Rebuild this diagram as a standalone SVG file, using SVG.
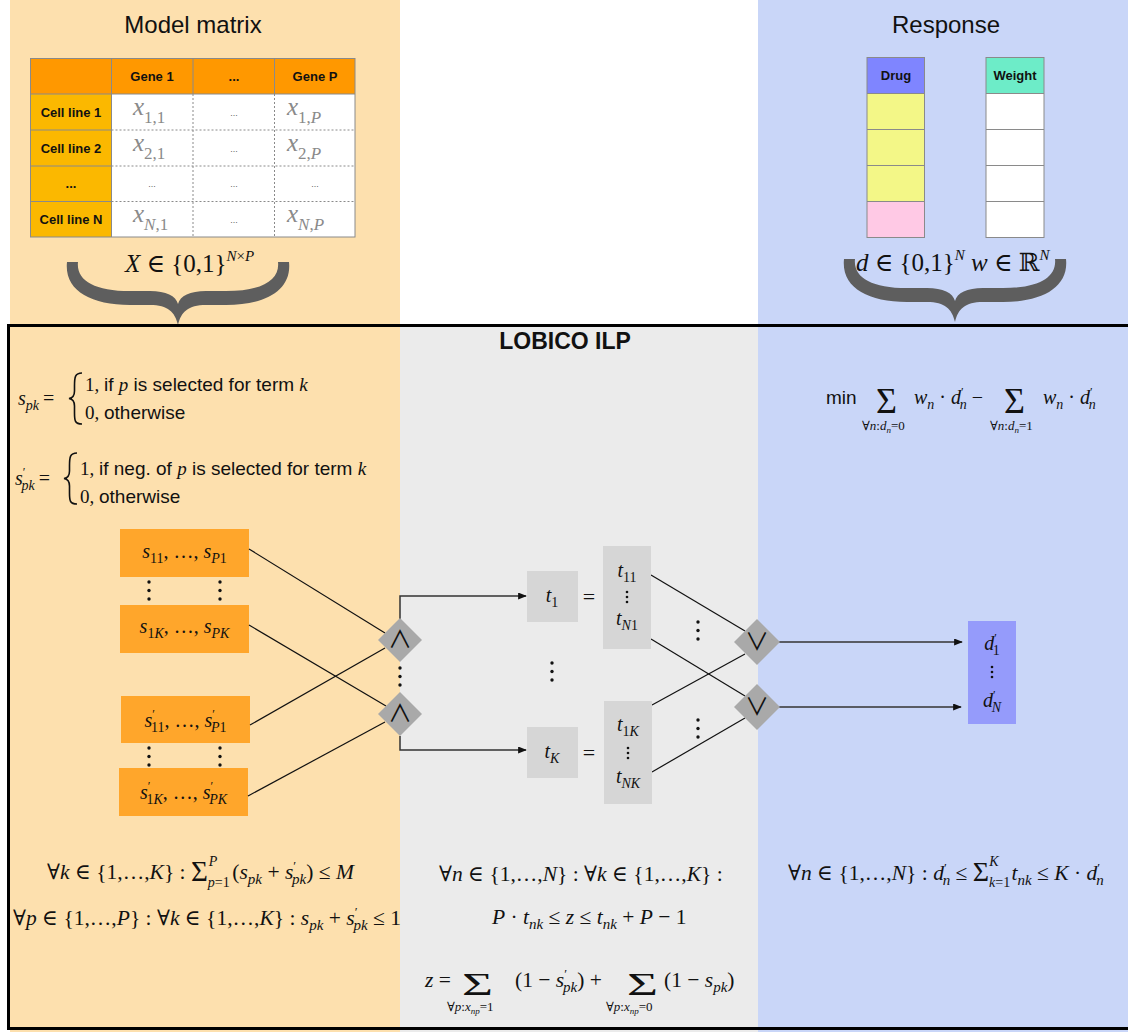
<svg xmlns="http://www.w3.org/2000/svg" width="1128" height="1032" viewBox="0 0 1128 1032" font-size="20">
<defs>
<style>
.sans{font-family:"Liberation Sans",Arial,"DejaVu Sans",sans-serif}
.m{font-family:"Liberation Serif","DejaVu Serif",serif;fill:#111}
.it{font-style:italic}
.title{font-family:"Liberation Sans",Arial,sans-serif;font-size:24px;text-anchor:middle;fill:#111}
.hdr{font-family:"Liberation Sans",Arial,sans-serif;font-weight:bold;font-size:13px;text-anchor:middle;fill:#111}
.cx{font-family:"Liberation Serif","DejaVu Serif",serif;font-size:25px;fill:#8a8a8a}
.ell{font-family:"Liberation Sans",Arial,sans-serif;font-size:9px;text-anchor:middle;fill:#666}
.grid{stroke:#8a8a8a;stroke-width:1;fill:none}
.dash{stroke:#8a8a8a;stroke-width:1;stroke-dasharray:2 2;fill:none}
.conn{stroke:#111;stroke-width:1.2;fill:none}
.arr{stroke:#333;stroke-width:1.5;fill:none;marker-end:url(#ah)}
.gate{fill:#a9a9a9}
.gsym{font-family:"Noto Sans CJK JP","DejaVu Sans",sans-serif;font-size:24px;text-anchor:middle;fill:#111}
.sbox{fill:#ffa62b}
.tbox{fill:#d6d6d6}
.dots circle{fill:#111}
</style>
<marker id="ah" viewBox="0 0 10 8" refX="9" refY="4" markerWidth="9" markerHeight="7" markerUnits="userSpaceOnUse" orient="auto"><path d="M0,0 L10,4 L0,8 z" fill="#111"/></marker>
<path id="brace" fill="#5e5e5e" d="M-111,0 C-114,28 -88,43 -48,43 L-28,43 C-10,43 -3,50 0,63 C3,50 10,43 28,43 L48,43 C88,43 114,28 111,0 L100,0 C102,18 84,29 48,29 L28,29 C12,29 2,34 0,42 C-2,34 -12,29 -28,29 L-48,29 C-84,29 -102,18 -100,0 Z"/>
<g id="vd3" class="dots"><circle cx="0" cy="0" r="1.7"/><circle cx="0" cy="8.5" r="1.7"/><circle cx="0" cy="17" r="1.7"/></g>
<g id="vds" class="dots"><circle cx="0" cy="0" r="1.3"/><circle cx="0" cy="5" r="1.3"/><circle cx="0" cy="10" r="1.3"/></g>
</defs>

<!-- column backgrounds -->
<rect x="0" y="0" width="1128" height="1032" fill="#ffffff"/>
<rect x="10" y="0" width="390" height="1032" fill="#fde0ae"/>
<rect x="400" y="325" width="358" height="707" fill="#ebebeb"/>
<rect x="758" y="0" width="370" height="1032" fill="#c9d6f8"/>

<!-- model matrix -->
<g id="model-matrix">
  <text class="title" x="193" y="33">Model matrix</text>
  <rect x="30" y="58" width="325" height="36" fill="#ff9800"/>
  <rect x="30" y="94" width="81.5" height="143" fill="#fbb800"/>
  <rect x="111.5" y="94" width="243.5" height="143" fill="#ffffff"/>
  <path class="grid" d="M111.5,58 V237 M193,58 V94 M274.5,58 V94 M30,94 H355 M30,130 H111.5 M30,166 H111.5 M30,201.5 H111.5"/>
  <path class="dash" d="M193,94 V237 M274.5,94 V237 M111.5,130 H355 M111.5,166 H355 M111.5,201.5 H355"/>
  <rect class="grid" x="30.5" y="58.5" width="324.5" height="178.5"/>
  <text class="hdr" x="152" y="81">Gene 1</text>
  <text class="hdr" x="234" y="81">...</text>
  <text class="hdr" x="315" y="81">Gene P</text>
  <text class="hdr" x="71" y="117">Cell line 1</text>
  <text class="hdr" x="71" y="153">Cell line 2</text>
  <text class="hdr" x="71" y="188">...</text>
  <text class="hdr" x="71" y="224">Cell line N</text>
  <text class="cx" x="133" y="115"><tspan font-style="italic">x</tspan><tspan font-size="17" dy="8">1,1</tspan></text>
  <text class="cx" x="287" y="115"><tspan font-style="italic">x</tspan><tspan font-size="17" dy="8">1,<tspan font-style="italic">P</tspan></tspan></text>
  <text class="cx" x="133" y="151"><tspan font-style="italic">x</tspan><tspan font-size="17" dy="8">2,1</tspan></text>
  <text class="cx" x="287" y="151"><tspan font-style="italic">x</tspan><tspan font-size="17" dy="8">2,<tspan font-style="italic">P</tspan></tspan></text>
  <text class="cx" x="133" y="222"><tspan font-style="italic">x</tspan><tspan font-size="17" dy="8"><tspan font-style="italic">N</tspan>,1</tspan></text>
  <text class="cx" x="287" y="222"><tspan font-style="italic">x</tspan><tspan font-size="17" dy="8"><tspan font-style="italic">N</tspan>,<tspan font-style="italic">P</tspan></tspan></text>
  <text class="ell" x="234" y="116">...</text>
  <text class="ell" x="234" y="152">...</text>
  <text class="ell" x="152" y="187">...</text>
  <text class="ell" x="234" y="187">...</text>
  <text class="ell" x="315" y="187">...</text>
  <text class="ell" x="234" y="223">...</text>
  <text class="m" x="125" y="272" font-size="25"><tspan class="it">X</tspan> ∈ {0,1}<tspan class="it" font-size="15" dy="-11">N</tspan><tspan font-size="15">×</tspan><tspan class="it" font-size="15">P</tspan></text>
  <use href="#brace" transform="translate(178,262)"/>
</g>

<!-- response -->
<g id="response">
  <text class="title" x="946" y="33">Response</text>
  <rect x="867" y="57.5" width="57.5" height="36" fill="#7f85ff"/>
  <rect x="867" y="93.5" width="57.5" height="108" fill="#f3f787"/>
  <rect x="867" y="201.5" width="57.5" height="36" fill="#ffc9e5"/>
  <path class="grid" d="M867,93.5 H924.5 M867,129.5 H924.5 M867,165.5 H924.5 M867,201.5 H924.5"/>
  <rect class="grid" x="867" y="57.5" width="57.5" height="180"/>
  <text class="hdr" x="896" y="80">Drug</text>
  <rect x="986" y="57.5" width="58" height="36" fill="#6decc8"/>
  <rect x="986" y="93.5" width="58" height="144" fill="#ffffff"/>
  <path class="grid" d="M986,93.5 H1044 M986,129.5 H1044 M986,165.5 H1044 M986,201.5 H1044"/>
  <rect class="grid" x="986" y="57.5" width="58" height="180"/>
  <text class="hdr" x="1015" y="80">Weight</text>
  <text class="m" x="856" y="271" font-size="25"><tspan class="it">d</tspan> ∈ {0,1}<tspan class="it" font-size="15" dy="-11">N</tspan><tspan dy="11"> </tspan><tspan class="it">w</tspan> ∈ ℝ<tspan class="it" font-size="15" dy="-11">N</tspan></text>
  <use href="#brace" transform="translate(955,259)"/>
</g>

<!-- ILP frame -->
<rect x="8.5" y="325.5" width="1125" height="703" fill="none" stroke="#000" stroke-width="3"/>
<text x="565" y="349" class="sans" font-size="23" font-weight="bold" text-anchor="middle" fill="#111">LOBICO ILP</text>

<!-- variable definitions -->
<g id="def-s">
  <text class="m" x="18" y="405"><tspan class="it">s</tspan><tspan class="it" font-size="14" dy="5">pk</tspan><tspan dy="-5" dx="4">=</tspan></text>
  <path d="M82,373 C75,373 74.5,377 74.5,386 L74.5,391 C74.5,396 72.5,398 69,398.5 C72.5,399 74.5,401 74.5,406 L74.5,413 C74.5,421 75,424 82,424" fill="none" stroke="#111" stroke-width="1.6"/>
  <text class="m" x="85" y="391" font-size="19">1, <tspan class="sans">if </tspan><tspan class="it">p</tspan><tspan class="sans"> is selected for term </tspan><tspan class="it">k</tspan></text>
  <text class="m" x="85" y="419" font-size="19">0, <tspan class="sans">otherwise</tspan></text>
</g>
<g id="def-s-neg">
  <text class="m" x="15" y="485"><tspan class="it">s</tspan><tspan font-size="12" dy="-9">′</tspan><tspan class="it" font-size="14" dx="-4" dy="14">pk</tspan><tspan dy="-5" dx="4">=</tspan></text>
  <path d="M77,453 C70,453 69.5,457 69.5,466 L69.5,471 C69.5,476 67.5,478 64,478.5 C67.5,479 69.5,481 69.5,486 L69.5,493 C69.5,501 70,504 77,504" fill="none" stroke="#111" stroke-width="1.6"/>
  <text class="m" x="80" y="475" font-size="19">1, <tspan class="sans">if neg. of </tspan><tspan class="it">p</tspan><tspan class="sans"> is selected for term </tspan><tspan class="it">k</tspan></text>
  <text class="m" x="80" y="503" font-size="19">0, <tspan class="sans">otherwise</tspan></text>
</g>

<!-- objective -->
<g id="objective">
  <text class="sans" x="826" y="404" font-size="19" fill="#111">min</text>
  <text class="m" x="876" y="413" font-size="36">Σ</text>
  <text class="m" x="862" y="430" font-size="13">∀<tspan class="it">n</tspan>:<tspan class="it">d</tspan><tspan class="it" font-size="9" dy="3">n</tspan><tspan dy="-3">=0</tspan></text>
  <text class="m" x="914" y="404"><tspan class="it">w</tspan><tspan class="it" font-size="14" dy="5">n</tspan><tspan dy="-5"> · </tspan><tspan class="it">d</tspan><tspan font-size="12" dy="-8">′</tspan><tspan class="it" font-size="14" dx="-4" dy="13">n</tspan><tspan dy="-5"> −</tspan></text>
  <text class="m" x="1004" y="413" font-size="36">Σ</text>
  <text class="m" x="990" y="430" font-size="13">∀<tspan class="it">n</tspan>:<tspan class="it">d</tspan><tspan class="it" font-size="9" dy="3">n</tspan><tspan dy="-3">=1</tspan></text>
  <text class="m" x="1043" y="404"><tspan class="it">w</tspan><tspan class="it" font-size="14" dy="5">n</tspan><tspan dy="-5"> · </tspan><tspan class="it">d</tspan><tspan font-size="12" dy="-8">′</tspan><tspan class="it" font-size="14" dx="-4" dy="13">n</tspan></text>
</g>

<!-- selection variable boxes -->
<g id="s-first">
  <rect class="sbox" x="120" y="529" width="129" height="48"/>
  <text class="m" x="184.5" y="558" text-anchor="middle"><tspan class="it">s</tspan><tspan font-size="14" dy="5">11</tspan><tspan dy="-5">, …, </tspan><tspan class="it">s</tspan><tspan font-size="14" dy="5"><tspan class="it">P</tspan>1</tspan></text>
</g>
<g id="s-last">
  <rect class="sbox" x="120" y="605" width="129" height="48"/>
  <text class="m" x="184.5" y="633" text-anchor="middle"><tspan class="it">s</tspan><tspan font-size="14" dy="5">1<tspan class="it">K</tspan></tspan><tspan dy="-5">, …, </tspan><tspan class="it">s</tspan><tspan class="it" font-size="14" dy="5">PK</tspan></text>
</g>
<g id="sn-first">
  <rect class="sbox" x="121" y="696" width="129" height="47"/>
  <text class="m" x="185.5" y="727" text-anchor="middle"><tspan class="it">s</tspan><tspan font-size="12" dy="-9">′</tspan><tspan font-size="14" dx="-4" dy="14">11</tspan><tspan dy="-5">, …, </tspan><tspan class="it">s</tspan><tspan font-size="12" dy="-9">′</tspan><tspan font-size="14" dx="-4" dy="14"><tspan class="it">P</tspan>1</tspan></text>
</g>
<g id="sn-last">
  <rect class="sbox" x="119" y="768" width="129" height="48"/>
  <text class="m" x="183.5" y="799" text-anchor="middle"><tspan class="it">s</tspan><tspan font-size="12" dy="-9">′</tspan><tspan font-size="14" dx="-4" dy="14">1<tspan class="it">K</tspan></tspan><tspan dy="-5">, …, </tspan><tspan class="it">s</tspan><tspan font-size="12" dy="-9">′</tspan><tspan class="it" font-size="14" dx="-4" dy="14">PK</tspan></text>
</g>
<use href="#vd3" x="149" y="582"/>
<use href="#vd3" x="220" y="582"/>
<use href="#vd3" x="149" y="748"/>
<use href="#vd3" x="220" y="748"/>

<!-- connectors -->
<g id="connectors">
  <line class="conn" x1="249" y1="549" x2="385" y2="633"/>
  <line class="conn" x1="249" y1="625" x2="386" y2="706"/>
  <line class="conn" x1="250" y1="725" x2="385" y2="648"/>
  <line class="conn" x1="248" y1="796" x2="385" y2="722"/>
  <path class="arr" d="M400,619 V596 H526"/>
  <path class="arr" d="M400,736 V750 H526"/>
  <line class="conn" x1="651" y1="575" x2="745" y2="631"/>
  <line class="conn" x1="651" y1="639" x2="745" y2="696"/>
  <line class="conn" x1="652" y1="705" x2="745" y2="654"/>
  <line class="conn" x1="652" y1="772" x2="745" y2="718"/>
  <path class="arr" d="M779,642 H962"/>
  <path class="arr" d="M779,707 H961"/>
</g>

<!-- AND gates -->
<g id="and-1">
  <path class="gate" d="M400,618 L422,640 L400,662 L378,640 Z"/>
  <text class="gsym" x="400" y="648">∧</text>
</g>
<g id="and-k">
  <path class="gate" d="M400,692 L422,714 L400,736 L378,714 Z"/>
  <text class="gsym" x="400" y="722">∧</text>
</g>
<use href="#vd3" x="400" y="668"/>

<!-- term variables -->
<g id="t-1">
  <rect class="tbox" x="527" y="571" width="51" height="51"/>
  <text class="m" x="552" y="602" text-anchor="middle"><tspan class="it">t</tspan><tspan font-size="14" dy="5">1</tspan></text>
</g>
<text class="m" x="589" y="604" font-size="22" text-anchor="middle">=</text>
<g id="t-1-col">
  <rect class="tbox" x="603" y="546" width="48" height="103"/>
  <text class="m" x="627" y="577" text-anchor="middle"><tspan class="it">t</tspan><tspan font-size="14" dy="5">11</tspan></text>
  <use href="#vds" x="627" y="592"/>
  <text class="m" x="627" y="625" text-anchor="middle"><tspan class="it">t</tspan><tspan font-size="14" dy="5"><tspan class="it">N</tspan>1</tspan></text>
</g>
<use href="#vd3" x="552" y="663"/>
<g id="t-k">
  <rect class="tbox" x="527" y="727" width="51" height="51"/>
  <text class="m" x="552" y="758" text-anchor="middle"><tspan class="it">t</tspan><tspan class="it" font-size="14" dy="5">K</tspan></text>
</g>
<text class="m" x="589" y="760" font-size="22" text-anchor="middle">=</text>
<g id="t-k-col">
  <rect class="tbox" x="604" y="701" width="48" height="103"/>
  <text class="m" x="628" y="731" text-anchor="middle"><tspan class="it">t</tspan><tspan font-size="14" dy="5">1<tspan class="it">K</tspan></tspan></text>
  <use href="#vds" x="628" y="748"/>
  <text class="m" x="628" y="783" text-anchor="middle"><tspan class="it">t</tspan><tspan class="it" font-size="14" dy="5">NK</tspan></text>
</g>
<use href="#vd3" x="698" y="622"/>
<use href="#vd3" x="698" y="720"/>

<!-- OR gates -->
<g id="or-1">
  <path class="gate" d="M757,619 L780,642 L757,665 L734,642 Z"/>
  <text class="gsym" x="757" y="650">∨</text>
</g>
<g id="or-n">
  <path class="gate" d="M757,684 L780,707 L757,730 L734,707 Z"/>
  <text class="gsym" x="757" y="715">∨</text>
</g>

<!-- predicted response -->
<g id="d-pred">
  <rect x="968" y="621" width="48" height="103" fill="#959bfb"/>
  <text class="m" x="992" y="650" text-anchor="middle"><tspan class="it">d</tspan><tspan font-size="12" dy="-8">′</tspan><tspan font-size="14" dx="-4" dy="13">1</tspan></text>
  <use href="#vds" x="992" y="667"/>
  <text class="m" x="992" y="707" text-anchor="middle"><tspan class="it">d</tspan><tspan font-size="12" dy="-8">′</tspan><tspan class="it" font-size="14" dx="-4" dy="13">N</tspan></text>
</g>

<!-- constraints -->
<g id="constraints-s">
  <text class="m" x="47" y="879" font-size="21.5">∀<tspan class="it">k</tspan> ∈ {1,…,<tspan class="it">K</tspan>} : <tspan font-size="29" dy="2">Σ</tspan><tspan font-size="14" dy="6"><tspan class="it">p</tspan>=1</tspan><tspan class="it" font-size="14" dx="-21" dy="-21">P</tspan><tspan dx="15" dy="13">(<tspan class="it">s</tspan></tspan><tspan class="it" font-size="15" dy="5">pk</tspan><tspan dy="-5"> + </tspan><tspan class="it">s</tspan><tspan font-size="13" dy="-9">′</tspan><tspan class="it" font-size="15" dx="-4" dy="14">pk</tspan><tspan dy="-5">) ≤ </tspan><tspan class="it">M</tspan></text>
  <text class="m" x="13" y="925" font-size="21.5">∀<tspan class="it">p</tspan> ∈ {1,…,<tspan class="it">P</tspan>} : ∀<tspan class="it">k</tspan> ∈ {1,…,<tspan class="it">K</tspan>} : <tspan class="it">s</tspan><tspan class="it" font-size="15" dy="5">pk</tspan><tspan dy="-5"> + </tspan><tspan class="it">s</tspan><tspan font-size="13" dy="-9">′</tspan><tspan class="it" font-size="15" dx="-4" dy="14">pk</tspan><tspan dy="-5"> ≤ 1</tspan></text>
</g>
<g id="constraints-t">
  <text class="m" x="439" y="881" font-size="21.5">∀<tspan class="it">n</tspan> ∈ {1,…,<tspan class="it">N</tspan>} : ∀<tspan class="it">k</tspan> ∈ {1,…,<tspan class="it">K</tspan>} :</text>
  <text class="m" x="492" y="924" font-size="21.5"><tspan class="it">P</tspan> · <tspan class="it">t</tspan><tspan class="it" font-size="15" dy="5">nk</tspan><tspan dy="-5"> ≤ </tspan><tspan class="it">z</tspan> ≤ <tspan class="it">t</tspan><tspan class="it" font-size="15" dy="5">nk</tspan><tspan dy="-5"> + </tspan><tspan class="it">P</tspan> − 1</text>
  <text class="m" x="425" y="987" font-size="21.5"><tspan class="it">z</tspan> =</text>
  <text class="m" x="462" y="995" font-size="32" textLength="31" lengthAdjust="spacingAndGlyphs">Σ</text>
  <text class="m" x="447" y="1011" font-size="13">∀<tspan class="it">p</tspan>:<tspan class="it">x</tspan><tspan class="it" font-size="9" dy="3">np</tspan><tspan dy="-3">=1</tspan></text>
  <text class="m" x="515" y="987" font-size="21.5">(1 − <tspan class="it">s</tspan><tspan font-size="13" dy="-9">′</tspan><tspan class="it" font-size="15" dx="-4" dy="14">pk</tspan><tspan dy="-5">) +</tspan></text>
  <text class="m" x="627" y="995" font-size="32" textLength="31" lengthAdjust="spacingAndGlyphs">Σ</text>
  <text class="m" x="606" y="1011" font-size="13">∀<tspan class="it">p</tspan>:<tspan class="it">x</tspan><tspan class="it" font-size="9" dy="3">np</tspan><tspan dy="-3">=0</tspan></text>
  <text class="m" x="664" y="987" font-size="21.5">(1 − <tspan class="it">s</tspan><tspan class="it" font-size="15" dy="5">pk</tspan><tspan dy="-5">)</tspan></text>
</g>
<g id="constraints-d">
  <text class="m" x="788" y="880" font-size="21.5">∀<tspan class="it">n</tspan> ∈ {1,…,<tspan class="it">N</tspan>} : <tspan class="it">d</tspan><tspan font-size="13" dy="-8">′</tspan><tspan class="it" font-size="15" dx="-4" dy="13">n</tspan><tspan dy="-5"> ≤ </tspan><tspan font-size="28" dy="1">Σ</tspan><tspan font-size="14" dy="6"><tspan class="it">k</tspan>=1</tspan><tspan class="it" font-size="14" dx="-21" dy="-21">K</tspan><tspan class="it" dx="13" dy="14">t</tspan><tspan class="it" font-size="15" dy="5">nk</tspan><tspan dy="-5"> ≤ </tspan><tspan class="it">K</tspan> · <tspan class="it">d</tspan><tspan font-size="13" dy="-8">′</tspan><tspan class="it" font-size="15" dx="-4" dy="13">n</tspan></text>
</g>
</svg>
